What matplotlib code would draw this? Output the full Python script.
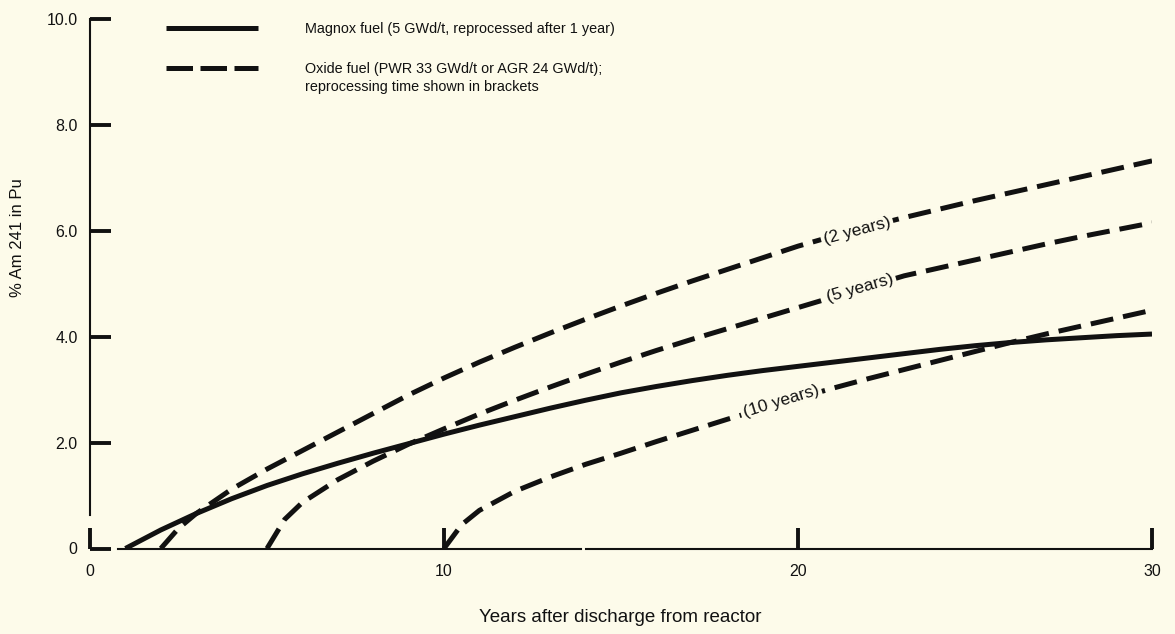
import matplotlib
matplotlib.use("Agg")
import matplotlib.pyplot as plt

# ---------------- data ----------------
magnox_x = [1, 2, 3, 4, 5, 6, 7, 8, 9, 10, 11, 12, 13, 14, 15, 16, 17, 18, 19, 20,
            21, 22, 23, 24, 25, 26, 27, 28, 29, 30]
magnox_y = [0, 0.35, 0.66, 0.94, 1.19, 1.41, 1.61, 1.80, 1.98, 2.16, 2.33, 2.49, 2.65, 2.80,
            2.94, 3.06, 3.17, 3.27, 3.36, 3.44, 3.52, 3.60, 3.68, 3.76, 3.83, 3.89, 3.94,
            3.98, 4.02, 4.05]

oxide2_x = [2, 2.5, 3, 4, 5, 6, 7, 8, 9, 10, 11, 12, 13, 14, 15, 16, 17, 18, 19, 20,
            21, 22, 23, 24, 25, 26, 27, 28, 29, 30]
oxide2_y = [0, 0.38, 0.66, 1.12, 1.50, 1.85, 2.20, 2.55, 2.90, 3.22, 3.52, 3.80, 4.07, 4.33,
            4.58, 4.82, 5.05, 5.27, 5.49, 5.71, 5.90, 6.08, 6.25, 6.41, 6.57, 6.72, 6.87,
            7.02, 7.17, 7.32]

oxide5_x = [5, 5.5, 6, 7, 8, 9, 10, 11, 12, 13, 14, 15, 16, 17, 18, 19, 20, 21, 22, 23,
            24, 25, 26, 27, 28, 29, 30]
oxide5_y = [0, 0.55, 0.87, 1.30, 1.65, 1.97, 2.26, 2.54, 2.80, 3.05, 3.29, 3.52, 3.74, 3.95,
            4.15, 4.35, 4.55, 4.75, 4.95, 5.15, 5.30, 5.45, 5.60, 5.75, 5.89, 6.02, 6.15]

oxide10_x = [10, 10.5, 11, 12, 13, 14, 15, 16, 17, 18, 19, 20, 21, 22, 23, 24, 25, 26,
             27, 28, 29, 30]
oxide10_y = [0, 0.45, 0.72, 1.08, 1.35, 1.59, 1.80, 2.02, 2.23, 2.44, 2.64, 2.84, 3.03, 3.21,
             3.38, 3.55, 3.72, 3.89, 4.05, 4.20, 4.35, 4.50]

curve_labels = ["(2 years)", "(5 years)", "(10 years)"]
label_x = [21.67, 21.75, 19.52]
label_y = [6.0, 4.92, 2.78]
label_rot = [15, 16, 17]

x_ticks = [0, 10, 20, 30]
x_ticklabels = ["0", "10", "20", "30"]
y_ticks = [0, 2, 4, 6, 8, 10]
y_ticklabels = ["0", "2.0", "4.0", "6.0", "8.0", "10.0"]

legend_line1 = "Magnox fuel (5 GWd/t, reprocessed after 1 year)"
legend_line2 = "Oxide fuel (PWR 33 GWd/t or AGR 24 GWd/t);"
legend_line3 = "reprocessing time shown in brackets"

xlabel = "Years after discharge from reactor"
ylabel = "% Am 241 in Pu"

# ---------------- style ----------------
plt.rcParams["font.family"] = ["Liberation Sans", "DejaVu Sans"]

BG = "#fdfbea"
INK = "#111111"
W, H = 1175, 634
fig = plt.figure(figsize=(W / 100, H / 100), dpi=100, facecolor=BG)
L, R, T, B = 90, 1152, 19, 548.5
ax = fig.add_axes([L / W, 1 - B / H, (R - L) / W, (B - T) / H])
ax.set_facecolor(BG)
ax.set_xlim(0, 30)
ax.set_ylim(0, 10)

lw = 3.6
dash = (4.6, 2.0)
ax.plot(magnox_x, magnox_y, color=INK, lw=lw, solid_capstyle="butt", solid_joinstyle="round")
for xs, ys in [(oxide2_x, oxide2_y), (oxide5_x, oxide5_y), (oxide10_x, oxide10_y)]:
    ax.plot(xs, ys, color=INK, lw=lw, dashes=dash, dash_capstyle="butt")

for txt, lx, ly, rot in zip(curve_labels, label_x, label_y, label_rot):
    ax.text(lx, ly, txt, rotation=rot, rotation_mode="anchor",
            ha="center", va="center", fontsize=12.5, color=INK,
            bbox=dict(facecolor=BG, edgecolor="none", pad=2.0), zorder=5)

# spines drawn as segments (hand-drawn look with small gaps)
for s in ax.spines.values():
    s.set_visible(False)
ax.plot([0, 0], [0.063, 1.0], transform=ax.transAxes, color=INK, lw=1.5, clip_on=False)
ax.plot([0.026, 0.462], [0, 0], transform=ax.transAxes, color=INK, lw=1.5, clip_on=False)
ax.plot([0.467, 1.0], [0, 0], transform=ax.transAxes, color=INK, lw=1.5, clip_on=False)

ax.set_xticks(x_ticks)
ax.set_xticklabels(x_ticklabels)
ax.set_yticks(y_ticks)
ax.set_yticklabels(y_ticklabels)
ax.tick_params(axis="both", direction="in", length=15, width=2.8, color=INK,
               labelsize=11.5, labelcolor=INK)
ax.tick_params(axis="y", pad=9)
ax.tick_params(axis="x", pad=11)

fig.text(620 / W, 1 - 618 / H, xlabel, ha="center", va="center", fontsize=13.5, color=INK)
fig.text(18 / W, 1 - 238 / H, ylabel, ha="center", va="center", rotation=90,
         fontsize=12, color=INK)

# legend drawn manually
lt = ax.transAxes
def fx(px):
    return (px - L) / (R - L)
def fy(py):
    return (B - py) / (B - T)
ax.plot([fx(166), fx(258)], [fy(28), fy(28)], transform=lt, color=INK, lw=lw,
        solid_capstyle="butt", clip_on=False)
ax.plot([fx(166), fx(258)], [fy(68), fy(68)], transform=lt, color=INK, lw=lw,
        dashes=(5.3, 1.5), dash_capstyle="butt", clip_on=False)
for txt, py in [(legend_line1, 28), (legend_line2, 68), (legend_line3, 86)]:
    ax.text(fx(305), fy(py), txt, transform=lt, ha="left", va="center_baseline",
            fontsize=10.4, color=INK)

fig.savefig("out.png", dpi=100, facecolor=BG)
